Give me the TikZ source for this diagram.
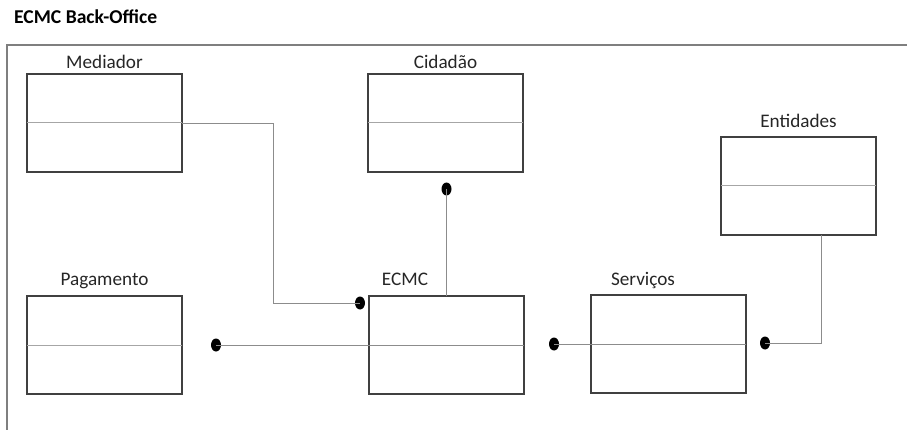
\documentclass[tikz,border=0pt]{standalone}
\usepackage{fontspec}
\setmainfont{Carlito}
\usetikzlibrary{shapes.geometric}
\definecolor{boxline}{HTML}{404040}
\definecolor{divline}{HTML}{A6A6A6}
\definecolor{conline}{HTML}{8C8C8C}
\definecolor{frameline}{HTML}{7F7F7F}
\begin{document}
\begin{tikzpicture}[x=1pt,y=-1pt,
  classbox/.style={draw=boxline,line width=1.2pt,rectangle,minimum width=155pt,minimum height=98pt,inner sep=0pt,outer sep=0pt},
  divider/.style={draw=divline,line width=1pt},
  conn/.style={draw=conline,line width=0.9pt},
  dot/.style={ellipse,fill=black,draw=none,minimum width=10pt,minimum height=13pt,inner sep=0pt,outer sep=0pt},
  lbl/.style={anchor=base,font=\fontsize{19.2}{22}\selectfont,text=black!85,inner sep=0pt},
  title/.style={anchor=base west,font=\fontsize{19.6}{23}\selectfont\bfseries,inner sep=0pt}]
\useasboundingbox (0,0) rectangle (907,430);
% frame
\draw[frameline,line width=2pt] (7,430) -- (7,45) -- (907,45);
\node[title] (ttl) at (14,24) {ECMC Back-Office};
% boxes
\node[classbox] (med) at (104.5,123) {};
\node[classbox] (cid) at (445.5,123) {};
\node[classbox] (ent) at (798.5,186) {};
\node[classbox] (pag) at (104.5,345) {};
\node[classbox] (ecmc) at (446.5,345) {};
\node[classbox] (serv) at (668.5,344) {};
% dividers
\foreach \b in {med,cid,ent,pag,ecmc,serv} \draw[divider] (\b.west) -- (\b.east);
% labels
\node[lbl] (lmed) at (104.5,69) {Mediador};
\node[lbl] (lcid) at (445.5,69) {Cidadão};
\node[lbl] (lent) at (798.5,128) {Entidades};
\node[lbl] (lpag) at (104.5,285) {Pagamento};
\node[lbl] (lecmc) at (405,286) {ECMC};
\node[lbl] (lserv) at (643,285) {Serviços};
% dots
\node[dot] (d1) at (360,303) {};
\node[dot] (d2) at (446.5,189) {};
\node[dot] (d3) at (216,345) {};
\node[dot] (d4) at (554,344) {};
\node[dot] (d5) at (765,343) {};
% connectors
\coordinate (c1) at (273,123);
\coordinate (c2) at (273,303);
\draw[conn] (med.east) -- (c1) -- (c2) -- (d1.center);
\draw[conn] (d2.center) -- (ecmc.north);
\draw[conn] (d3.center) -- (ecmc.east |- d3.center);
\draw[conn] (d4.center) -- (serv.east |- d4.center);
\coordinate (e1) at ([xshift=22.5pt]ent.south);
\coordinate (e2) at (e1 |- d5.center);
\draw[conn] (e1) -- (e2) -- (d5.center);
\end{tikzpicture}
\end{document}
